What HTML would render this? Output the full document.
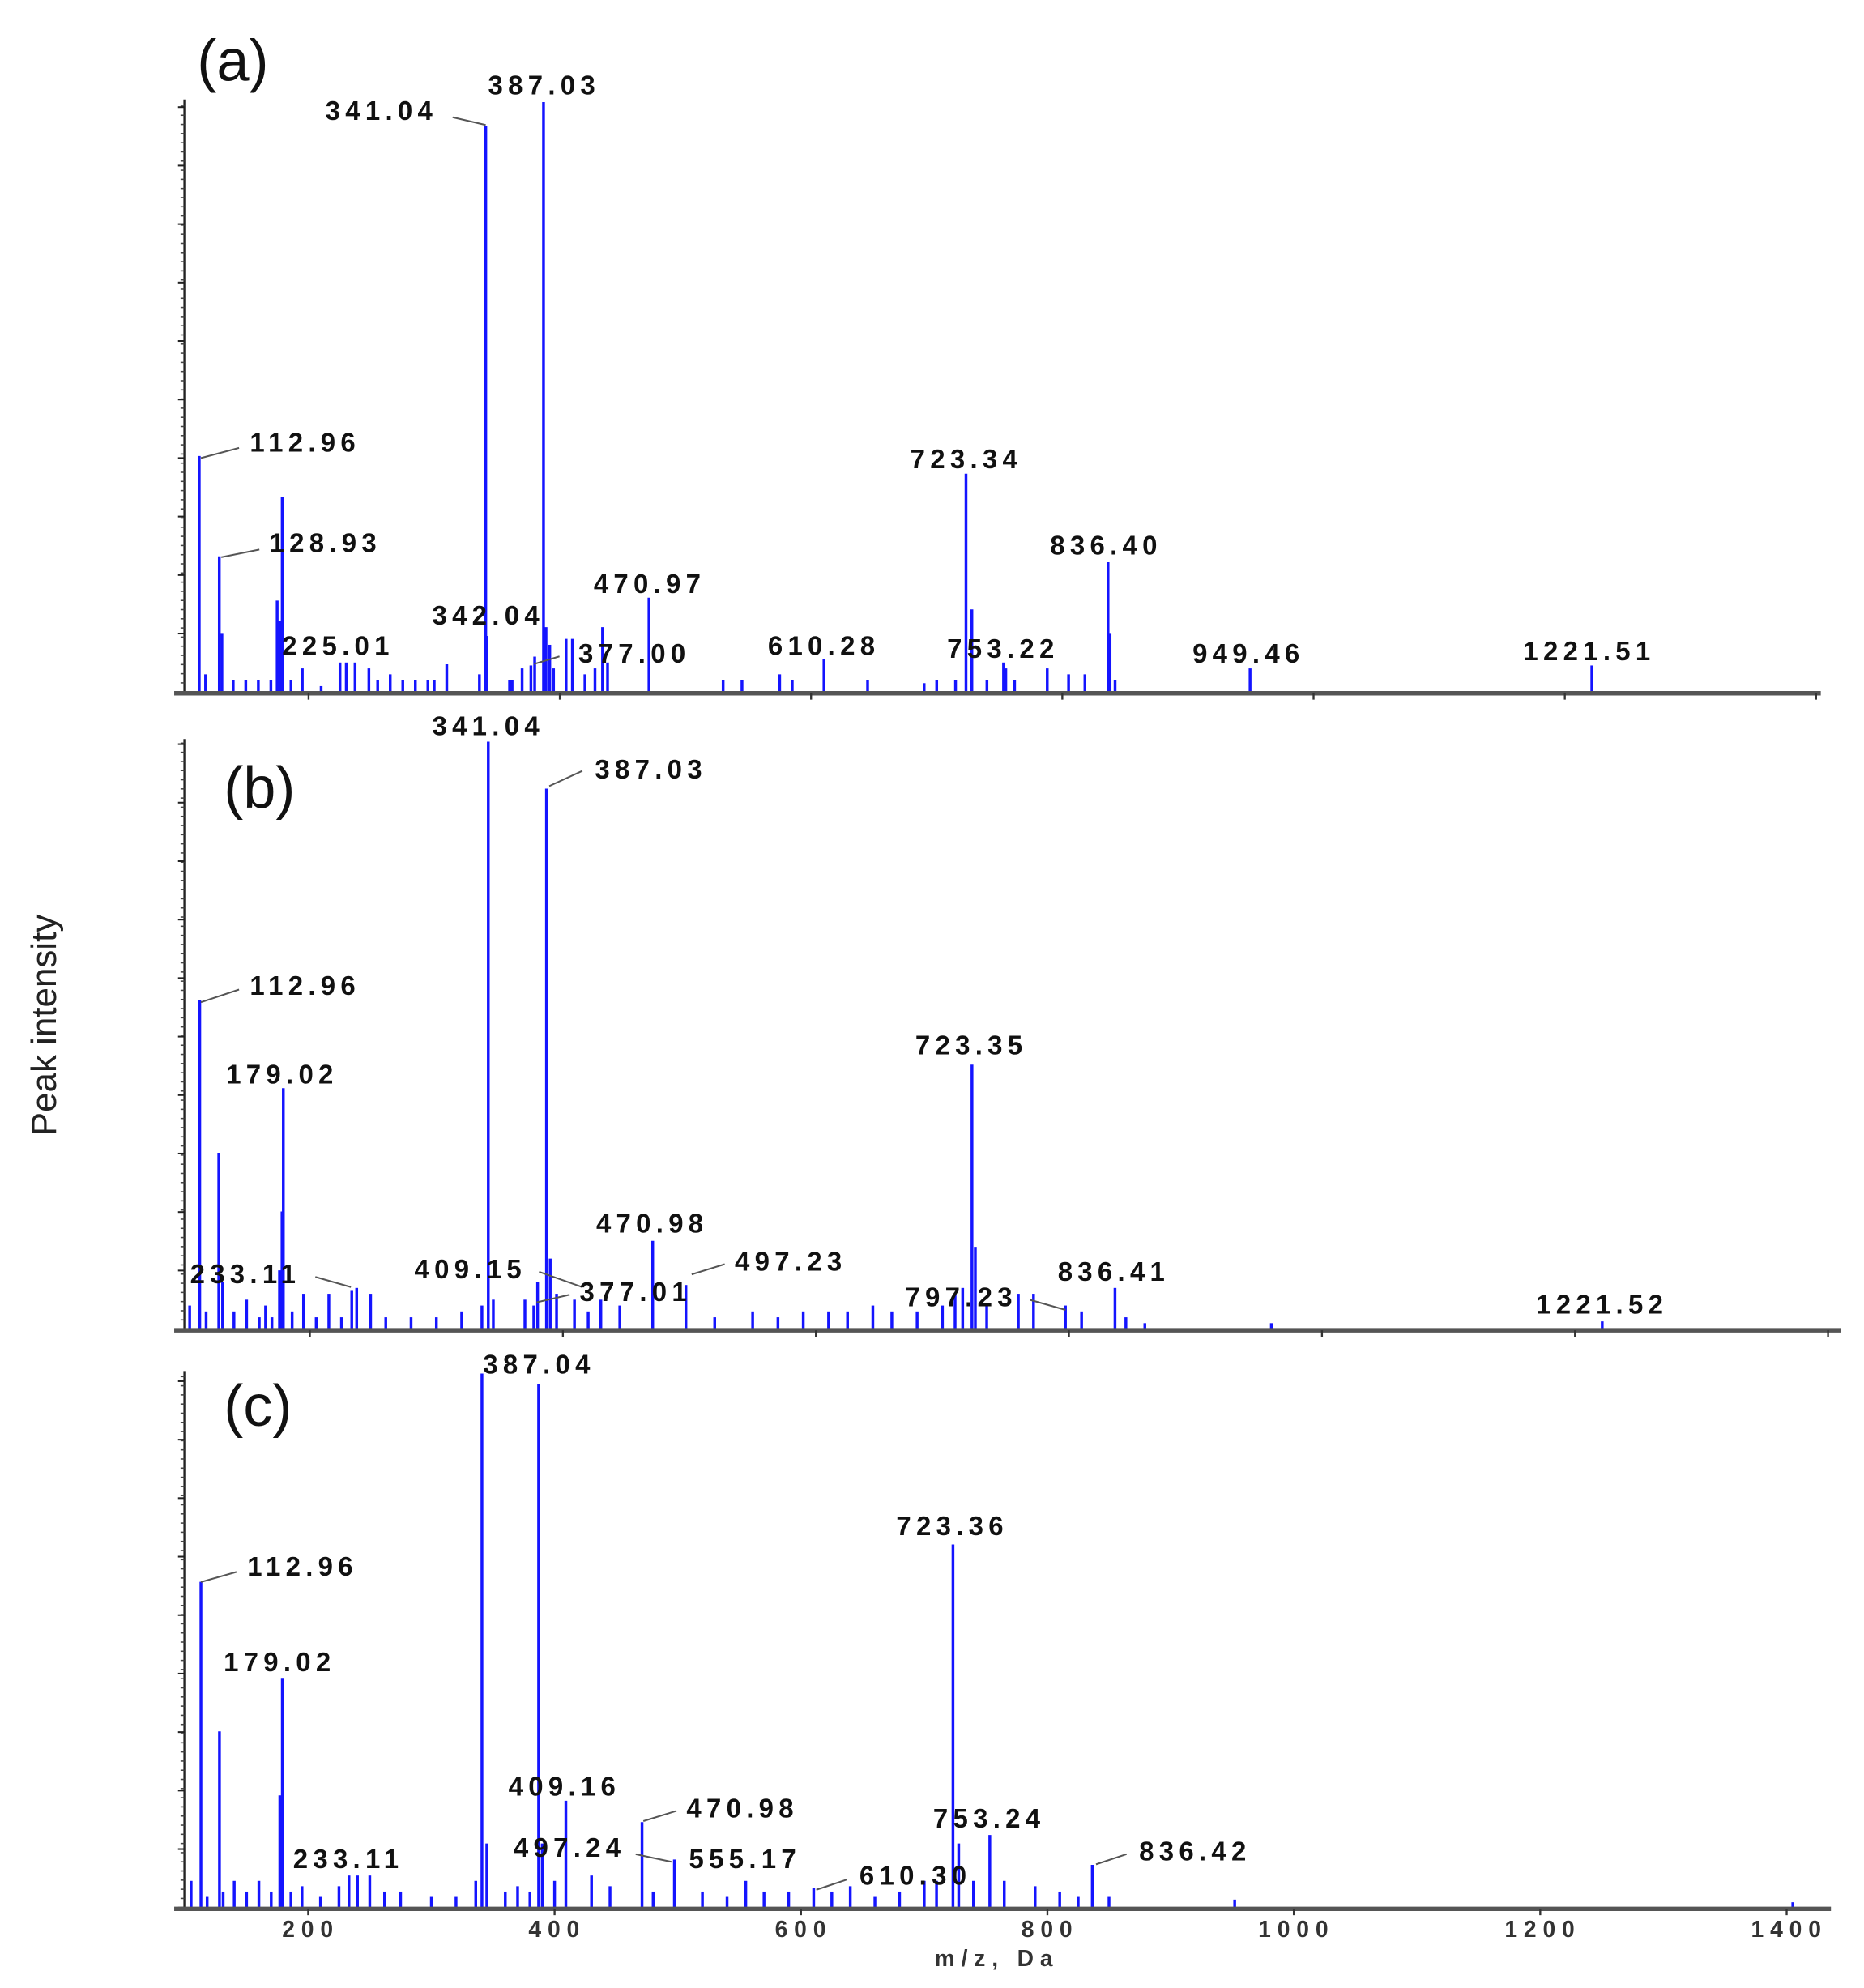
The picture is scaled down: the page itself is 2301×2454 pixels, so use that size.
<!DOCTYPE html>
<html><head><meta charset="utf-8">
<style>
html,body{margin:0;padding:0;background:#fff;}
svg{display:block;}
.pl{font-family:"Liberation Sans",sans-serif;font-weight:bold;font-size:21px;letter-spacing:4px;fill:#111;}
.tk{font-family:"Liberation Sans",sans-serif;font-weight:bold;font-size:18px;letter-spacing:5px;fill:#333;}
.pn{font-family:"Liberation Sans",sans-serif;font-size:46px;fill:#111;}
</style></head>
<body>
<svg id="chart" width="2301" height="2454" viewBox="0 0 1466 1563" xmlns="http://www.w3.org/2000/svg">
<text x="0" y="0" transform="translate(44,806) rotate(-90)" text-anchor="middle" font-family="Liberation Sans, sans-serif" font-size="28" fill="#222">Peak intensity</text>
<g id="panels"></g>
</svg>
<script>
// Panel (a)
const mzA = [112.96,118,128.93,131,140,150,160,170,175,177,179,186,195,210,225.01,230,237,248,255,265,275,285,295,300,310,336,341.04,342.04,360,362,370,377.00,380,387.03,389,392,395,405,410,420,428,434,438,470.97,530,545,575,585,610.28,645,690,700,715,723.34,728,740,753.22,755,762,788,805,818,836.40,838,842,949.46,1221.51];
const intA = [40,3,23,10,2,2,2,2,15.5,12,33,2,4,1,5,5,5,4,2,3,2,2,2,2,4.7,3,96,9.5,2,2,4,4.5,6,100,11,8,4,9,9,3,4,11,5,16,2,2,3,2,5.6,2,1.5,2,2,37,14,2,5,4,2,4,3,3,22,10,2,4,4.5];
// Panel (b)
const mzB = [105,112.96,118,128,131,140,150,160,165,170,176,178,179.02,186,195,205,215,225,233.11,237,248,260,280,300,320,336,341.04,345,370,377.01,380,387.03,390,395,409.15,420,430,445,470.98,497.23,520,550,570,590,610,625,645,660,680,700,710,716,723.35,726,735,760,772,797.23,810,836.41,845,860,960,1221.52,1430];
const intB = [4,56,3,30,8,3,5,2,4,2,10,20,41,3,6,2,6,2,6.5,7,6,2,2,2,3,4,100,5,5,4,8,92,12,6,5,3,5,4,15,7.5,2,3,2,3,3,3,4,3,3,4,6,7,45,14,4,6,6,4,3,7,2,1,1,1.3,1];
// Panel (c)
const mzC = [105,112.96,118,128,131,140,150,160,170,177,179.02,186,195,210,225,233.11,240,250,262,275,300,320,336,341.04,345,360,370,380,387.04,390,400,409.16,430,445,470.98,480,497.24,520,540,555.17,570,590,610.30,625,640,660,680,700,710,723.36,728,740,753.24,765,790,810,825,836.42,850,952,1405];
const intC = [5,61,2,33,3,5,3,5,3,21,43,3,4,2,4,6,6,6,3,3,2,2,5,100,12,3,4,3,98,12,5,20,6,4,16,3,9,3,2,5,3,3,3.6,3,4,2,3,5,5,68,12,5,13.6,5,4,3,2,8,2,1.5,1];
const xTicks = [200,400,600,800,1000,1200,1400];

const panels = [
 {id:'a', mz:mzA, it:intA, base:544, top:80, x0:382, m0:341, k:0.988, axEnd:1432, letter:[155,63],
  labels:[['387.03',428,74,null],['341.04',300,94,[356,92,382,98]],['112.96',240,355,[188,352,158,360]],['128.93',256,434,[204,432,174,438]],
   ['723.34',760,368,null],['836.40',870,436,null],['470.97',511,466,null],['342.04',384,491,null],['225.01',266,515,null],
   ['377.00',499,521,[440,516,420,522]],['610.28',648,515,null],['753.22',789,517,null],['949.46',982,521,null],['1221.51',1250,519,null]]},
 {id:'b', mz:mzB, it:intB, base:1045, top:583, x0:384, m0:341, k:0.995, axEnd:1448, letter:[176,635],
  labels:[['341.04',384,578,null],['387.03',512,612,[458,606,432,618]],['112.96',240,782,[188,778,158,788]],['179.02',222,852,null],
   ['723.35',764,829,null],['470.98',513,969,null],['497.23',622,999,[570,994,544,1002]],['233.11',193,1009,[248,1004,276,1012]],
   ['409.15',370,1005,[424,1000,458,1012]],['377.01',500,1023,[448,1018,422,1024]],['797.23',756,1027,[810,1022,838,1030]],
   ['836.41',876,1007,null],['1221.52',1260,1033,null]]},
 {id:'c', mz:mzC, it:intC, base:1500, top:1080, x0:379, m0:341, k:0.969, axEnd:1440, letter:[176,1121],
  labels:[['387.04',424,1080,null],['112.96',238,1239,[186,1236,158,1244]],['179.02',220,1314,null],['723.36',749,1207,null],
   ['409.16',444,1412,null],['470.98',584,1429,[532,1424,506,1432]],['497.24',448,1460,[500,1458,528,1464]],
   ['555.17',586,1469,null],['233.11',274,1469,null],['753.24',778,1437,null],['610.30',720,1482,[666,1478,642,1486]],
   ['836.42',940,1463,[886,1458,862,1466]]]}
];

const NS='http://www.w3.org/2000/svg';
const root=document.getElementById('panels');
function mk(tag,attrs,parent){const e=document.createElementNS(NS,tag);for(const k in attrs)e.setAttribute(k,attrs[k]);parent.appendChild(e);return e;}

panels.forEach(p=>{
  const g=mk('g',{},root);
  
  
  const xs=m=>p.x0+(m-p.m0)*p.k;
  const ys=v=>p.base-(v/100)*(p.base-p.top);
  const ya=mk('line',{x1:145,y1:p.top-2,x2:145,y2:p.base,stroke:'#222','stroke-width':1.5},g);
  
  
  for(let y=p.base;y>=p.top;y-=7.2){mk('line',{x1:142,y1:y,x2:145,y2:y,stroke:'#444','stroke-width':1},g);}
  for(let y=p.base;y>=p.top;y-=46){mk('line',{x1:140,y1:y,x2:145,y2:y,stroke:'#222','stroke-width':1.3},g);}
  p.mz.forEach((m,i)=>{
    const l=mk('line',{x1:xs(m),y1:p.base,x2:xs(m),y2:ys(p.it[i]),stroke:'#1414ff','stroke-width':2.2},g);
    
    
  });
  const xa=mk('line',{x1:137,y1:p.base+1,x2:p.axEnd,y2:p.base+1,stroke:'#555','stroke-width':3.5},g);
  
  
  xTicks.forEach(t=>{mk('line',{x1:xs(t),y1:p.base+1,x2:xs(t),y2:p.base+6,stroke:'#333','stroke-width':1.5},g);});
  p.labels.forEach(L=>{
    if(L[3]){mk('polyline',{points:L[3][0]+','+L[3][1]+' '+L[3][2]+','+L[3][3],fill:'none',stroke:'#555','stroke-width':1.3},g);}
    const t=mk('text',{x:L[1],y:L[2],'text-anchor':'middle','class':'pl'},g);
    t.textContent=L[0];
    
    
  });
  const lt=mk('text',{x:p.letter[0],y:p.letter[1],'class':'pn'},g);
  lt.textContent='('+p.id+')';
  
  
  if(p.id==='c'){
    xTicks.forEach(t=>{
      const tx=mk('text',{x:xs(t)+2,y:1523,'text-anchor':'middle','class':'tk'},g);
      tx.textContent=String(t);
      
      
    });
    const xt=mk('text',{x:784,y:1546,'text-anchor':'middle','class':'tk'},g);
    xt.textContent='m/z, Da';
    
    
  }
});
</script>
</body></html>
